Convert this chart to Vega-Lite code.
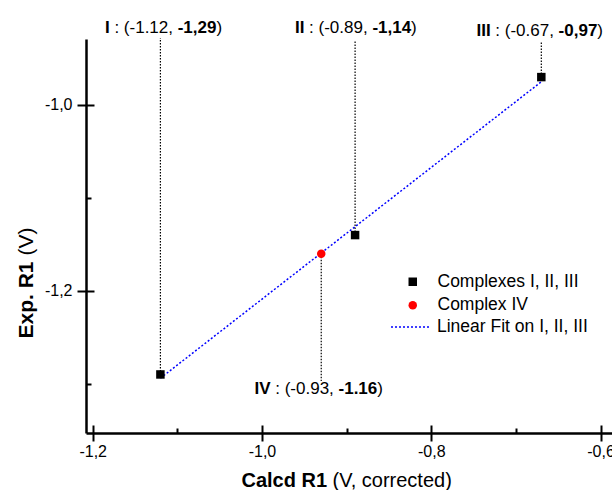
{
  "$schema": "https://vega.github.io/schema/vega-lite/v6.json",
  "width": 526,
  "height": 394,
  "autosize": {"type": "none"},
  "padding": {"left": 86, "top": 39, "right": 0, "bottom": 57},
  "background": "white",
  "config": {
    "view": {"stroke": null},
    "font": "Liberation Sans",
    "axis": {"grid": false, "domainColor": "black", "tickColor": "black", "labelColor": "black", "titleColor": "black"},
    "legend": {"labelColor": "black", "padding": 0}
  },
  "datasets": {
    "pts": [
      {"id": "I", "calcd": -1.12, "exp": -1.29, "type": "Complexes I, II, III", "xtxt": ": (-1.12,", "ytxt": "-1,29", "label_y": -0.9229, "drop_end": -0.928},
      {"id": "II", "calcd": -0.89, "exp": -1.14, "type": "Complexes I, II, III", "xtxt": ": (-0.89,", "ytxt": "-1,14", "label_y": -0.9229, "drop_end": -0.930},
      {"id": "III", "calcd": -0.67, "exp": -0.97, "type": "Complexes I, II, III", "xtxt": ": (-0.67,", "ytxt": "-0,97", "label_y": -0.9258, "drop_end": -0.932},
      {"id": "IV", "calcd": -0.93, "exp": -1.16, "type": "Complex IV", "xtxt": ": (-0.93,", "ytxt": "-1.16", "label_y": -1.3108, "drop_end": -1.297}
    ],
    "fit": [
      {"calcd": -1.12, "exp": -1.294, "fit": "Linear Fit on I, II, III"},
      {"calcd": -0.67, "exp": -0.975, "fit": "Linear Fit on I, II, III"}
    ]
  },
  "layer": [
    {
      "data": {"name": "fit"},
      "mark": {"type": "line", "strokeWidth": 1.5},
      "encoding": {
        "x": {"field": "calcd", "type": "quantitative", "scale": {"domain": [-1.2079, -0.5865], "nice": false, "zero": false},
          "axis": {"orient": "bottom", "values": [-1.2, -1.0, -0.8, -0.6], "tickSize": 8, "tickWidth": 2, "domainWidth": 2.5,
            "labelExpr": "replace(replace(format(datum.value,'.1f'),'.',','),'\u2212','-')", "labelFontSize": 16, "labelPadding": 2, "labelFlush": false, "labelOverlap": false,
            "title": "Calcd R1", "titleFontWeight": "bold", "titleFontSize": 20, "titleAnchor": "start", "titleAlign": "left", "titleBaseline": "alphabetic", "titleX": 155, "titleY": 53}},
        "y": {"field": "exp", "type": "quantitative", "scale": {"domain": [-1.353, -0.929], "nice": false, "zero": false},
          "axis": {"orient": "left", "values": [-1.2, -1.0], "tickSize": 9, "tickWidth": 2, "domainWidth": 2.5,
            "labelExpr": "replace(replace(format(datum.value,'.1f'),'.',','),'\u2212','-')", "labelFontSize": 16, "labelPadding": 5, "labelFlush": false, "labelOverlap": false,
            "title": "Exp. R1", "titleFontWeight": "bold", "titleFontSize": 21, "titleAngle": 270, "titleAnchor": "start", "titleAlign": "left", "titleBaseline": "alphabetic", "titleX": -54, "titleY": 299}},
        "stroke": {"field": "fit", "type": "nominal", "scale": {"range": ["#0000ff"]},
          "legend": {"orient": "none", "legendX": 304, "legendY": 268, "title": null, "labelFontSize": 17.5, "labelOffset": 7, "symbolSize": 1444, "symbolStrokeWidth": 1.5, "symbolType": "stroke"}},
        "strokeDash": {"field": "fit", "type": "nominal", "scale": {"range": [[2, 2]]}}
      }
    },
    {
      "data": {"name": "pts"},
      "mark": {"type": "rule", "color": "black", "strokeWidth": 1.2, "strokeDash": [1.5, 1.5]},
      "encoding": {
        "x": {"field": "calcd", "type": "quantitative",
          "axis": {"orient": "bottom", "values": [-1.2, -1.0, -0.8, -0.6], "tickSize": -8, "tickWidth": 2, "domain": false, "labels": false,
            "title": "(V, corrected)", "titleFontWeight": "normal", "titleFontSize": 20, "titleAnchor": "start", "titleAlign": "left", "titleBaseline": "alphabetic", "titleX": 246, "titleY": 53}},
        "y": {"field": "exp", "type": "quantitative",
          "axis": {"orient": "left", "values": [-1.2, -1.0], "tickSize": -8, "tickWidth": 2, "domain": false, "labels": false,
            "title": "(V)", "titleFontWeight": "normal", "titleFontSize": 21, "titleAngle": 270, "titleAnchor": "start", "titleAlign": "left", "titleBaseline": "alphabetic", "titleX": -54, "titleY": 216}},
        "y2": {"field": "drop_end"}
      }
    },
    {
      "data": {"name": "pts"},
      "mark": {"type": "point", "filled": true, "size": 72, "opacity": 1},
      "encoding": {
        "x": {"field": "calcd", "type": "quantitative",
          "axis": {"orient": "bottom", "values": [-1.1, -0.9, -0.7], "tickSize": -5, "tickWidth": 2, "domain": false, "labels": false, "title": null}},
        "y": {"field": "exp", "type": "quantitative",
          "axis": {"orient": "left", "values": [-1.3, -1.1], "tickSize": -5, "tickWidth": 2, "domain": false, "labels": false, "title": null}},
        "fill": {"field": "type", "type": "nominal", "scale": {"domain": ["Complexes I, II, III", "Complex IV"], "range": ["black", "red"]},
          "legend": {"orient": "none", "legendX": 318, "legendY": 234, "title": null, "labelFontSize": 17.5, "labelOffset": 16, "rowPadding": 4.5, "symbolSize": 72, "symbolStrokeWidth": 0}},
        "shape": {"field": "type", "type": "nominal", "scale": {"domain": ["Complexes I, II, III", "Complex IV"], "range": ["square", "circle"]}}
      }
    },
    {
      "data": {"name": "pts"},
      "mark": {"type": "text", "align": "right", "dx": -50.7, "baseline": "alphabetic", "fontWeight": "bold", "fontSize": 17, "color": "black"},
      "encoding": {
        "x": {"field": "calcd", "type": "quantitative", "axis": null},
        "y": {"field": "label_y", "type": "quantitative", "axis": null},
        "text": {"field": "id"}
      }
    },
    {
      "data": {"name": "pts"},
      "mark": {"type": "text", "align": "left", "dx": -46.0, "baseline": "alphabetic", "fontWeight": "normal", "fontSize": 17, "color": "black"},
      "encoding": {
        "x": {"field": "calcd", "type": "quantitative", "axis": null},
        "y": {"field": "label_y", "type": "quantitative", "axis": null},
        "text": {"field": "xtxt"}
      }
    },
    {
      "data": {"name": "pts"},
      "mark": {"type": "text", "align": "left", "dx": 17.3, "baseline": "alphabetic", "fontWeight": "bold", "fontSize": 17, "color": "black"},
      "encoding": {
        "x": {"field": "calcd", "type": "quantitative", "axis": null},
        "y": {"field": "label_y", "type": "quantitative", "axis": null},
        "text": {"field": "ytxt"}
      }
    },
    {
      "data": {"name": "pts"},
      "mark": {"type": "text", "align": "left", "dx": 56.0, "baseline": "alphabetic", "fontWeight": "normal", "fontSize": 17, "color": "black"},
      "encoding": {
        "x": {"field": "calcd", "type": "quantitative", "axis": null},
        "y": {"field": "label_y", "type": "quantitative", "axis": null},
        "text": {"value": ")"}
      }
    }
  ],
  "resolve": {"axis": {"x": "independent", "y": "independent"}}
}
